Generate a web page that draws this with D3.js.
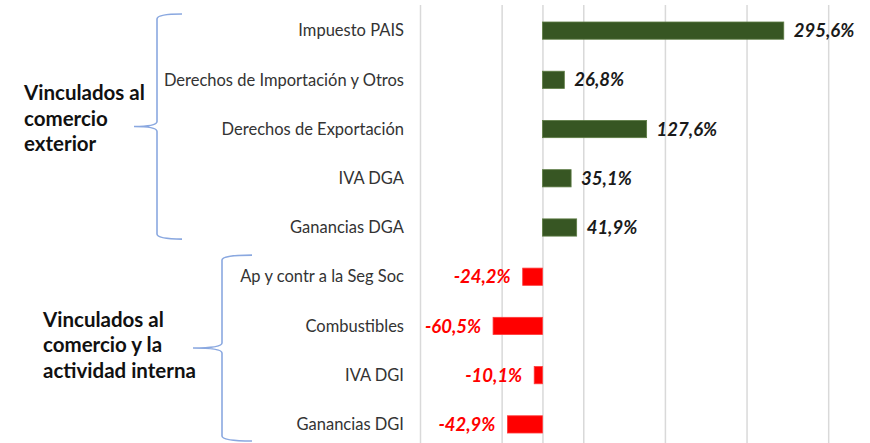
<!DOCTYPE html>
<html>
<head>
<meta charset="utf-8">
<script src="https://cdn.jsdelivr.net/npm/d3@7"></script>
<style>
  html, body { margin: 0; padding: 0; background: #fff; }
  svg { display: block; }
</style>
</head>
<body>
<svg id="chart" width="870" height="443"></svg>
<script>
const categories = [
  "Impuesto PAIS",
  "Derechos de Importación y Otros",
  "Derechos de Exportación",
  "IVA DGA",
  "Ganancias DGA",
  "Ap y contr a la Seg Soc",
  "Combustibles",
  "IVA DGI",
  "Ganancias DGI"
];
const values = [295.6, 26.8, 127.6, 35.1, 41.9, -24.2, -60.5, -10.1, -42.9];
const gridTicks = [-150, -50, 50, 150, 250, 350];
const groupNames = [
  ["Vinculados al", "comercio", "exterior"],
  ["Vinculados al", "comercio y la", "actividad interna"]
];
const groupRanges = [[0, 4], [5, 8]];

const svg = d3.select("#chart");
const W = 870, H = 443;

const x = d3.scaleLinear().domain([-150, 400]).range([420, 869]);
const y = d3.scaleBand().domain(categories).range([6, 449])
  .paddingInner(0.65).paddingOuter(0.325);

// gridlines
const grid = svg.append("g").attr("transform", "translate(0,5)")
  .call(d3.axisBottom(x).tickValues(gridTicks.concat([0])).tickSize(H).tickFormat(""));
grid.select(".domain").remove();
grid.selectAll(".tick line").attr("stroke", "#d9d9d9").attr("stroke-width", 1.5);

// bars
svg.append("g").selectAll("rect").data(values).join("rect")
  .attr("x", d => x(Math.min(0, d)))
  .attr("y", (d, i) => y(categories[i]))
  .attr("width", d => Math.abs(x(d) - x(0)))
  .attr("height", y.bandwidth())
  .attr("fill", d => d >= 0 ? "#375623" : "#ff0000")
  .attr("stroke", d => d >= 0 ? "#5e7d45" : "#ff3b3b")
  .attr("stroke-width", 0.8);

// category labels
svg.append("g").selectAll("text").data(categories).join("text")
  .attr("x", 404)
  .attr("y", d => y(d) + y.bandwidth() / 2)
  .attr("dy", "0.35em")
  .attr("text-anchor", "end")
  .attr("font-family", "Lato, 'Open Sans', sans-serif")
  .attr("font-size", 16.5)
  .attr("fill", "#333")
  .text(d => d);

// value labels
const fmt = v => d3.format(".1f")(v).replace(".", ",").replace("−", "-") + "%";
svg.append("g").selectAll("text").data(values).join("text")
  .attr("x", d => d >= 0 ? x(d) + 10 : x(d) - 12)
  .attr("y", (d, i) => y(categories[i]) + y.bandwidth() / 2)
  .attr("dy", "0.36em")
  .attr("text-anchor", d => d >= 0 ? "start" : "end")
  .attr("font-family", "Lato, 'Open Sans', sans-serif")
  .attr("font-weight", "bold")
  .attr("font-style", "italic")
  .attr("font-size", 18.5)
  .attr("fill", d => d >= 0 ? "#1a1a1a" : "#ff0000")
  .text(fmt);

// braces
function brace(xv, y0, y1, tipX, armX) {
  const ym = (y0 + y1) / 2, r = 5;
  return `M${armX},${y0} Q${xv},${y0} ${xv},${y0 + r}` +
    ` L${xv},${ym - r} Q${xv},${ym} ${tipX},${ym}` +
    ` Q${xv},${ym} ${xv},${ym + r}` +
    ` L${xv},${y1 - r} Q${xv},${y1} ${armX},${y1}`;
}
const braceSpecs = [
  { xv: 157, tipX: 134, armX: 182, pad: [8, 3] },
  { xv: 222, tipX: 193, armX: 252, pad: [13, 8] }
];
groupRanges.forEach((r, gi) => {
  const s = braceSpecs[gi];
  const y0 = y(categories[r[0]]) - s.pad[0];
  const y1 = y(categories[r[1]]) + y.bandwidth() + s.pad[1];
  svg.append("path").attr("d", brace(s.xv, y0, y1, s.tipX, s.armX))
    .attr("fill", "none").attr("stroke", "#8aa8e0").attr("stroke-width", 1.6);
});

// group labels
const groupPos = [{ x: 24, y: 100 }, { x: 43, y: 326.5 }];
groupNames.forEach((lines, gi) => {
  const t = svg.append("text")
    .attr("font-family", "Lato, 'Open Sans', sans-serif")
    .attr("font-weight", "bold")
    .attr("font-size", 20.5)
    .attr("fill", "#111");
  lines.forEach((ln, li) => {
    t.append("tspan").attr("x", groupPos[gi].x).attr("y", groupPos[gi].y + li * 25.5).text(ln);
  });
});
</script>
</body>
</html>
